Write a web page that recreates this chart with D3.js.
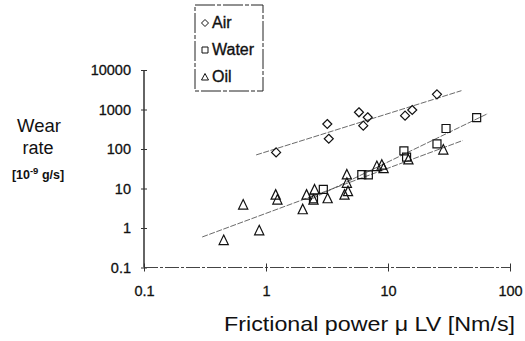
<!DOCTYPE html>
<html>
<head>
<meta charset="utf-8">
<script src="https://cdn.jsdelivr.net/npm/d3@7"></script>
<style>
  body { margin: 0; background: #fff; }
  text { font-family: "Liberation Sans", Arial, sans-serif; fill: #111; }
</style>
</head>
<body>
<div id="viz"></div>
<script>
// data (frictional power in Nm/s, wear rate in 1e-9 g/s)
const airX = [1.21, 3.18, 3.27, 5.78, 6.82, 6.27, 13.8, 15.8, 25.2];
const airY = [82, 430, 182, 850, 635, 389, 697, 971, 2425];

const waterX = [2.45, 2.95, 6.1, 6.9, 13.5, 14.2, 25.2, 29.9, 53.3];
const waterY = [5.5, 9.5, 22.5, 22, 90, 62, 135, 330, 625];

const oilX = [0.45, 0.65, 0.88, 1.2, 1.24, 2.0, 2.15, 2.45, 2.5, 3.2, 4.4, 4.7, 4.6, 4.6, 8.1, 8.9, 9.2, 14.7, 28.4];
const oilY = [0.48, 3.8, 0.85, 6.8, 5.1, 2.9, 6.8, 5.1, 9.2, 5.5, 6.8, 8.3, 13.5, 22, 36, 39, 32, 53, 94];

// x extent of each fitted power-law line
const airFitRange = [0.83, 40];
const waterFitRange = [2.4, 66];
const oilFitRange = [0.3, 41];

const seriesNames = ["Air", "Water", "Oil"];
const xTicks = [0.1, 1, 10, 100];
const xTickLabels = ["0.1", "1", "10", "100"];
const yTicks = [0.1, 1, 10, 100, 1000, 10000];
const yTickLabels = ["0.1", "1", "10", "100", "1000", "10000"];

const svg = d3.select("#viz")
  .append("svg")
  .attr("width", 525)
  .attr("height", 341);

svg.append("rect").attr("width", 525).attr("height", 341).attr("fill", "#fff");

const x = d3.scaleLog().domain([0.1, 100]).range([144, 510]);
const y = d3.scaleLog().domain([0.1, 10000]).range([267.5, 70]);

// marker shapes
const shapes = {
  Air: "M0,-4.5L4.5,0L0,4.5L-4.5,0Z",
  Water: "M-4,-4L4,-4L4,4L-4,4Z",
  Oil: "M0,-5.5L4.6,4L-4.6,4Z"
};
const smallShapes = {
  Air: "M0,-3.5L3.5,0L0,3.5L-3.5,0Z",
  Water: "M-3,-3L3,-3L3,3L-3,3Z",
  Oil: "M0,-3.5L3.5,3L-3.5,3Z"
};

const series = [
  { name: "Air", xs: airX, ys: airY, range: airFitRange },
  { name: "Water", xs: waterX, ys: waterY, range: waterFitRange },
  { name: "Oil", xs: oilX, ys: oilY, range: oilFitRange }
];

// least squares fit in log-log space
function fitLine(xs, ys) {
  const lx = xs.map(Math.log10), ly = ys.map(Math.log10);
  const mx = d3.mean(lx), my = d3.mean(ly);
  let sxy = 0, sxx = 0;
  lx.forEach((v, i) => { sxy += (v - mx) * (ly[i] - my); sxx += (v - mx) * (v - mx); });
  const b = sxy / sxx;
  const a = my - b * mx;
  return v => Math.pow(10, a + b * Math.log10(v));
}

// trend lines
series.forEach(s => {
  const f = fitLine(s.xs, s.ys);
  svg.append("line")
    .attr("x1", x(s.range[0])).attr("y1", y(f(s.range[0])))
    .attr("x2", x(s.range[1])).attr("y2", y(f(s.range[1])))
    .attr("stroke", "#444")
    .attr("stroke-width", 0.8)
    .attr("stroke-dasharray", "6,1.5");
});

// axes
const yAxis = svg.append("g")
  .attr("transform", "translate(144,0)")
  .call(d3.axisLeft(y).tickValues(yTicks).tickFormat((d, i) => yTickLabels[i]).tickSize(3).tickPadding(10));
yAxis.select(".domain").attr("d", "M0," + y(10000) + "V" + y(0.1)).attr("stroke", "#111").attr("stroke-width", 1.3);
yAxis.selectAll(".tick line").attr("x1", -3).attr("x2", 3).attr("stroke", "#333");
yAxis.selectAll(".tick text")
  .attr("font-size", 14.5).attr("font-family", "Liberation Sans, Arial, sans-serif")
  .attr("fill", "#111").attr("stroke", "#111").attr("stroke-width", 0.3);

const xAxis = svg.append("g")
  .attr("transform", "translate(0," + y(0.1) + ")")
  .call(d3.axisBottom(x).tickValues(xTicks).tickFormat((d, i) => xTickLabels[i]).tickSize(4).tickPadding(14));
xAxis.select(".domain").attr("d", "M" + x(0.1) + ",0H" + x(100)).attr("stroke", "#444").attr("stroke-width", 1).attr("stroke-dasharray", "14,2,3,2");
xAxis.selectAll(".tick line").attr("y1", -4).attr("y2", 4).attr("stroke", "#333");
xAxis.selectAll(".tick text")
  .attr("font-size", 14.5).attr("font-family", "Liberation Sans, Arial, sans-serif")
  .attr("fill", "#111").attr("stroke", "#111").attr("stroke-width", 0.3);

// markers
series.forEach(s => {
  svg.selectAll("path.m-" + s.name)
    .data(s.xs.map((v, i) => [v, s.ys[i]]))
    .enter()
    .append("path")
    .attr("class", "m-" + s.name)
    .attr("d", shapes[s.name])
    .attr("transform", d => "translate(" + x(d[0]) + "," + y(d[1]) + ")")
    .attr("fill", "none")
    .attr("stroke", "#111")
    .attr("stroke-width", 1.2);
});

// axis titles
const yTitle = svg.append("g").attr("text-anchor", "middle");
yTitle.append("text").attr("x", 39).attr("y", 132).attr("font-size", 18.5).text("Wear");
yTitle.append("text").attr("x", 38).attr("y", 154).attr("font-size", 18).text("rate");
const unit = yTitle.append("text").attr("x", 38).attr("y", 179).attr("font-size", 12.5).attr("font-weight", "bold");
unit.append("tspan").text("[10");
unit.append("tspan").attr("dy", -5).attr("font-size", 9.5).text("-9");
unit.append("tspan").attr("dy", 5).text(" g/s]");

svg.append("text")
  .attr("x", 224)
  .attr("y", 331)
  .attr("font-size", 21)
  .attr("textLength", 291)
  .attr("lengthAdjust", "spacingAndGlyphs")
  .text("Frictional power \u03bc LV [Nm/s]");

// legend
const legend = svg.append("g");
legend.append("rect")
  .attr("x", 195).attr("y", 5).attr("width", 68).attr("height", 86)
  .attr("fill", "#fff").attr("stroke", "#222").attr("stroke-width", 1)
  .attr("stroke-dasharray", "20,2,4,2");
seriesNames.forEach((name, i) => {
  const cy = 23 + i * 27;
  legend.append("path")
    .attr("d", smallShapes[name])
    .attr("transform", "translate(205," + cy + ")")
    .attr("fill", "none").attr("stroke", "#111").attr("stroke-width", 1);
  legend.append("text")
    .attr("x", 212).attr("y", cy + 5)
    .attr("font-size", 16)
    .attr("stroke", "#111").attr("stroke-width", 0.35)
    .text(name);
});
</script>
</body>
</html>
